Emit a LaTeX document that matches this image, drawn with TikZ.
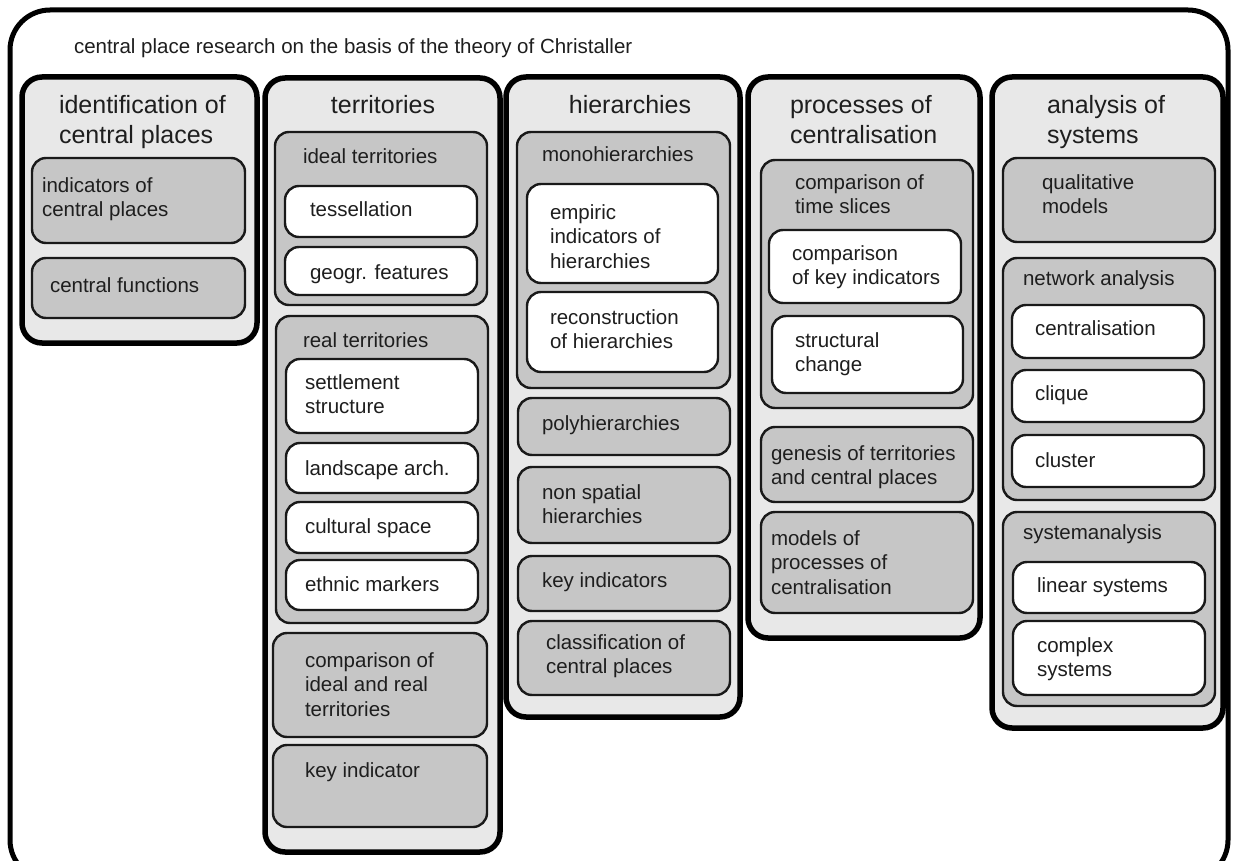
\documentclass[tikz,border=0pt]{standalone}
\usepackage{fontspec}
\setmainfont{Liberation Sans}
\definecolor{colfill}{RGB}{232,232,232}
\definecolor{grpfill}{RGB}{198,198,198}
\definecolor{txt}{RGB}{30,30,30}
\newcommand\bx[6]{\node[#2, minimum width={#5-#3}, minimum height={#6-#4}] (#1) at ({(#3+#5)/2},{(#4+#6)/2}) {};}
\tikzset{
  colbox/.style={draw=black, line width=5.5pt, fill=colfill, rounded corners=20pt, inner sep=0pt, outer sep=0pt},
  grpbox/.style={draw=black!90, line width=2.4pt, fill=grpfill, rounded corners=14pt, inner sep=0pt, outer sep=0pt},
  whitebox/.style={draw=black!90, line width=2.4pt, fill=white, rounded corners=14pt, inner sep=0pt, outer sep=0pt},
  lbl/.style={anchor=base west, inner sep=0pt, outer sep=0pt, align=left, text=txt, font=\fontsize{20.5}{24.8}\selectfont},
  hdr/.style={anchor=base west, inner sep=0pt, outer sep=0pt, align=left, text=txt, font=\fontsize{25}{30}\selectfont},
  hdrc/.style={anchor=base, inner sep=0pt, outer sep=0pt, align=center, text=txt, font=\fontsize{25}{30}\selectfont}
}
\begin{document}
\begin{tikzpicture}[x=1pt,y=-1pt]
\useasboundingbox (0,0) rectangle (1234,861);
\clip (0,0) rectangle (1234,861);
\fill[white] (0,0) rectangle (1234,861);
\draw[line width=5pt, rounded corners=40pt] (10,10) rectangle (1228,880);
\node[lbl] (title) at (74,54) {central place research on the basis of the theory of Christaller};

% column 1
\bx{c1}{colbox}{22}{77}{257}{343}
\node[hdr] (h1) at (59,144) {identification of\\central places};
\bx{b11}{grpbox}{32}{158}{245}{243}
\node[lbl] (t11) at (42,216.8) {indicators of\\central places};
\bx{b12}{grpbox}{32}{258}{245}{318}
\node[lbl] (t12) at (50,292) {central functions};

% column 2
\bx{c2}{colbox}{265}{78}{500}{852}
\node[hdrc] (h2) at (383,114) {territories};
\bx{g21}{grpbox}{275}{132}{487}{305}
\node[lbl] (tg21) at (303,164) {ideal territories};
\bx{w211}{whitebox}{285}{186}{477}{237}
\node[lbl] (tw211) at (310,217) {tessellation};
\bx{w212}{whitebox}{285}{247}{477}{295}
\node[lbl] (tw212) at (310,279) {geogr. features};
\bx{g22}{grpbox}{276}{316}{488}{623}
\node[lbl] (tg22) at (303,347) {real territories};
\bx{w221}{whitebox}{286}{359}{478}{433}
\node[lbl] (tw221) at (305,413.8) {settlement\\structure};
\bx{w222}{whitebox}{286}{443}{478}{493}
\node[lbl] (tw222) at (305,475) {landscape arch.};
\bx{w223}{whitebox}{286}{502}{478}{553}
\node[lbl] (tw223) at (305,533) {cultural space};
\bx{w224}{whitebox}{286}{560}{478}{610}
\node[lbl] (tw224) at (305,591) {ethnic markers};
\bx{g23}{grpbox}{273}{633}{487}{737}
\node[lbl] (tg23) at (305,716.6) {comparison of\\ideal and real\\territories};
\bx{g24}{grpbox}{273}{745}{487}{827}
\node[lbl] (tg24) at (305,777) {key indicator};

% column 3
\bx{c3}{colbox}{506}{77}{740}{717}
\node[hdrc] (h3) at (630,114) {hierarchies};
\bx{g31}{grpbox}{517}{132}{730}{388}
\node[lbl] (tg31) at (542,162) {monohierarchies};
\bx{w311}{whitebox}{527}{184}{718}{283}
\node[lbl] (tw311) at (550,268.6) {empiric\\indicators of\\hierarchies};
\bx{w312}{whitebox}{527}{292}{718}{372}
\node[lbl] (tw312) at (550,348.8) {reconstruction\\of hierarchies};
\bx{g32}{grpbox}{518}{398}{730}{455}
\node[lbl] (tg32) at (542,430) {polyhierarchies};
\bx{g33}{grpbox}{518}{467}{730}{543}
\node[lbl] (tg33) at (542,523.8) {non spatial\\hierarchies};
\bx{g34}{grpbox}{518}{556}{730}{611}
\node[lbl] (tg34) at (542,587) {key indicators};
\bx{g35}{grpbox}{518}{621}{730}{695}
\node[lbl] (tg35) at (546,673.8) {classification of\\central places};

% column 4
\bx{c4}{colbox}{748}{77}{980}{638}
\node[hdr] (h4) at (790,144) {processes of\\centralisation};
\bx{g41}{grpbox}{761}{160}{973}{408}
\node[lbl] (tg41) at (795,213.8) {comparison of\\time slices};
\bx{w411}{whitebox}{769}{230}{961}{303}
\node[lbl] (tw411) at (792,284.8) {comparison\\of key indicators};
\bx{w412}{whitebox}{772}{316}{963}{393}
\node[lbl] (tw412) at (795,371.8) {structural\\change};
\bx{g42}{grpbox}{761}{427}{973}{502}
\node[lbl] (tg42) at (771,484.8) {genesis of territories\\and central places};
\bx{g43}{grpbox}{761}{512}{973}{613}
\node[lbl] (tg43) at (771,594.6) {models of\\processes of\\centralisation};

% column 5
\bx{c5}{colbox}{992}{77}{1223}{728}
\node[hdr] (h5) at (1047,144) {analysis of\\systems};
\bx{g51}{grpbox}{1003}{158}{1215}{242}
\node[lbl] (tg51) at (1042,213.8) {qualitative\\models};
\bx{g52}{grpbox}{1003}{258}{1215}{500}
\node[lbl] (tg52) at (1023,285) {network analysis};
\bx{w521}{whitebox}{1012}{305}{1204}{358}
\node[lbl] (tw521) at (1035,335) {centralisation};
\bx{w522}{whitebox}{1012}{370}{1204}{422}
\node[lbl] (tw522) at (1035,400) {clique};
\bx{w523}{whitebox}{1012}{435}{1204}{487}
\node[lbl] (tw523) at (1035,467) {cluster};
\bx{g53}{grpbox}{1003}{512}{1215}{706}
\node[lbl] (tg53) at (1023,539) {systemanalysis};
\bx{w531}{whitebox}{1013}{562}{1205}{613}
\node[lbl] (tw531) at (1037,592) {linear systems};
\bx{w532}{whitebox}{1013}{621}{1205}{695}
\node[lbl] (tw532) at (1037,676.8) {complex\\systems};
\end{tikzpicture}
\end{document}
